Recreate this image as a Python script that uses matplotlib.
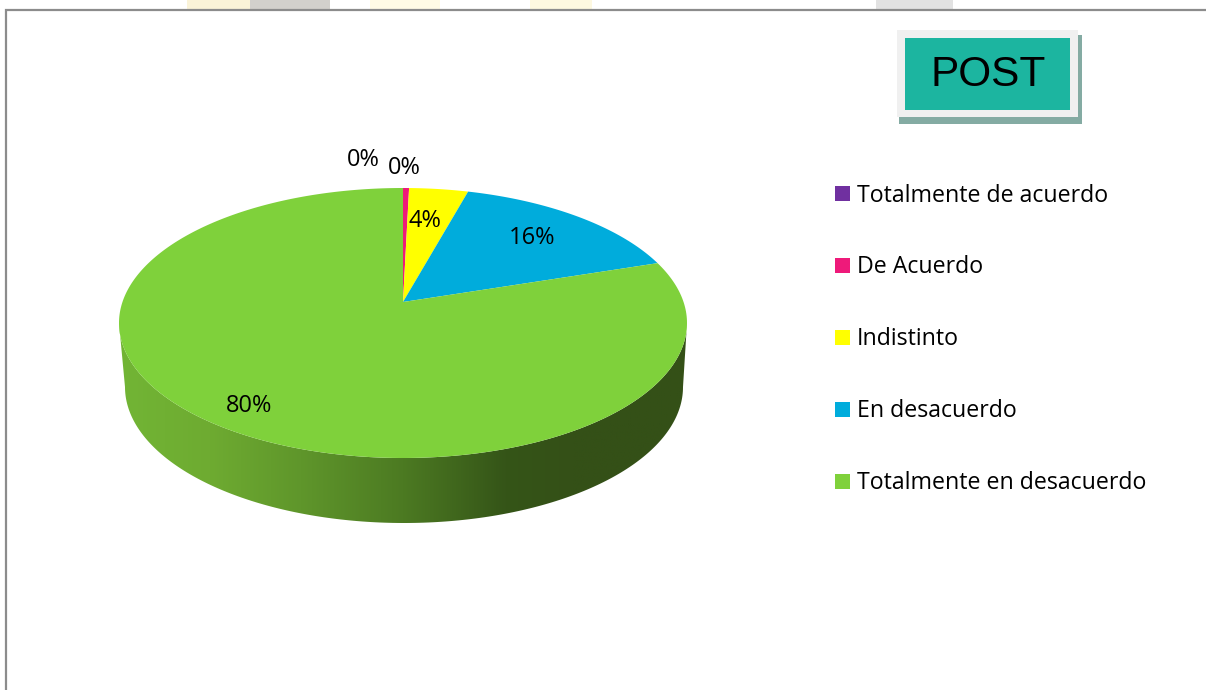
"""
plot.py - Pastel 3D "POST" (respuestas en porcentaje)
"""
import numpy as np
import matplotlib
matplotlib.use("Agg")
import matplotlib.pyplot as plt
from matplotlib.colors import LinearSegmentedColormap
from matplotlib.patches import Polygon, Rectangle

categorias = ["Totalmente de acuerdo", "De Acuerdo", "Indistinto",
              "En desacuerdo", "Totalmente en desacuerdo"]
valores = [0.0, 0.4, 3.9, 15.7, 80.0]
colores = ["#7030a0", "#ee1a7a", "#ffff00", "#00acdc", "#7fd13b"]

# Posicion de cada etiqueta de porcentaje (pixeles)
pos_etiquetas = [(363, 160), (404, 168), (425, 221), (532, 238), (249, 406)]
filas_leyenda = [195.5, 267, 339, 411, 483]
filas_cuadros = [193.5, 265, 337, 409, 481]

# Geometria del pastel: vertice, extremos de la elipse superior e inferior
VX, VY = 403, 302
ARRIBA, ABAJO, RADIO_X = 114, 156, 284
CY_SUP = 323
CY_INF, AX_INF, AY_INF = 387, 279, 136

k = (ABAJO - ARRIBA) / (ABAJO + ARRIBA)
A = ARRIBA * (1 + k)
C = RADIO_X * np.sqrt(1 - k ** 2)


def proyectar(fraccion):
    """Fraccion acumulada (horario desde arriba) a pixeles, con perspectiva."""
    theta = 2 * np.pi * np.asarray(fraccion)
    u, v = np.sin(theta), np.cos(theta)
    den = 1 + k * v
    return VX + C * u / den, VY - A * v / den


fig = plt.figure(figsize=(12.06, 6.9), dpi=100)
ax = fig.add_axes([0, 0, 1, 1])
ax.set_xlim(0, 1206)
ax.set_ylim(690, 0)
ax.axis("off")

# Restos de la pagina por encima del marco
for x0, x1, col in [(187, 250, "#faf3d8"), (250, 330, "#d2d0cc"), (370, 440, "#fffbe6"),
                    (530, 592, "#fdf8e0"), (876, 953, "#e2e2e2")]:
    ax.add_patch(Rectangle((x0, 0), x1 - x0, 10, fc=col, ec="none", zorder=1))

# Marco del grafico
ax.plot([6, 6, 1206], [690, 10, 10], color="#8c8c8c", lw=1.6, zorder=2,
        solid_joinstyle="miter")

# Lateral del pastel con degradado horizontal
t = np.linspace(0, np.pi, 200)
xs_sup = VX - RADIO_X * np.cos(t)
ys_sup = CY_SUP + (CY_SUP - 188) * np.sin(t)
xs_inf = VX + 1 + AX_INF * np.cos(t)
ys_inf = CY_INF + AY_INF * np.sin(t)
lateral = Polygon(np.column_stack([np.r_[xs_sup, xs_inf], np.r_[ys_sup, ys_inf]]),
                  fc="none", ec="none", transform=ax.transData)
ax.add_patch(lateral)
cmap = LinearSegmentedColormap.from_list("lateral", [
    (0.0, "#72b535"), (0.16, "#6eab31"), (0.32, "#5f962b"), (0.5, "#4c7a22"),
    (0.68, "#355518"), (0.8, "#345017"), (1.0, "#345017")])
img = ax.imshow(np.linspace(0, 1, 256)[None, :], cmap=cmap, aspect="auto",
                extent=(119, 687, 530, 320), zorder=3)
img.set_clip_path(lateral)
ax.set_xlim(0, 1206)
ax.set_ylim(690, 0)

# Sectores superiores
acum = np.cumsum([0.0] + valores) / sum(valores)
for ini, fin, col in zip(acum[:-1], acum[1:], colores):
    if fin <= ini:
        continue
    px, py = proyectar(np.linspace(ini, fin, 300))
    ax.add_patch(Polygon(np.column_stack([np.r_[VX, px], np.r_[VY, py]]),
                         fc=col, ec="none", zorder=4))

# Etiquetas de porcentaje
fuente = ["Open Sans", "DejaVu Sans"]
for val, (x, y) in zip(valores, pos_etiquetas):
    ax.text(x, y, f"{val:.0f}%", fontsize=17, family=fuente, color="black",
            ha="center", va="center", zorder=6)

# Leyenda
for nombre, col, y, yc in zip(categorias, colores, filas_leyenda, filas_cuadros):
    ax.add_patch(Rectangle((835, yc - 7.5), 15, 15, fc=col, ec="none", zorder=5))
    ax.text(857, y, nombre, fontsize=16.7, family=fuente, color="black",
            ha="left", va="center", zorder=6)

# Recuadro POST
ax.add_patch(Rectangle((899, 35), 183, 89, fc="#84aba3", ec="none", zorder=5))
ax.add_patch(Rectangle((897, 30), 181, 87, fc="#f0f0f0", ec="none", zorder=6))
ax.add_patch(Rectangle((905, 38), 165, 72, fc="#1cb5a0", ec="none", zorder=7))
ax.text(988, 75, "POST", fontsize=30.5, family="Liberation Sans", color="black",
        ha="center", va="center", zorder=8)

fig.savefig("out.png", dpi=100)
plt.close(fig)
